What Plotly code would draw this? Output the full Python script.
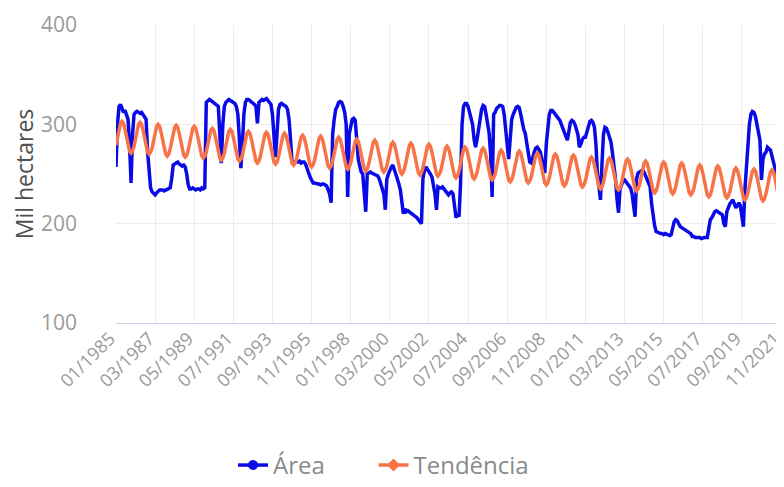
import plotly.graph_objects as go

# Monthly categories 01/1985 .. 11/2021
months = [f"{m:02d}/{y}" for y in range(1985, 2022) for m in range(1, 13)][:443]

tick_labels = ["01/1985", "03/1987", "05/1989", "07/1991", "09/1993", "11/1995",
               "01/1998", "03/2000", "05/2002", "07/2004", "09/2006", "11/2008",
               "01/2011", "03/2013", "05/2015", "07/2017", "09/2019", "11/2021"]

area = [
    257, 300, 318, 320, 316, 312, 314, 310, 305, 280, 241, 290,  # 1985
    310, 312, 313, 312, 311, 312, 310, 308, 305, 272, 250, 236,  # 1986
    232, 230, 229, 231, 233, 234, 234, 234, 233, 234, 234, 235,  # 1987
    236, 245, 259, 260, 261, 262, 260, 259, 258, 259, 257, 250,  # 1988
    239, 235, 235, 236, 235, 234, 235, 235, 234, 236, 235, 236,  # 1989
    322, 324, 325, 324, 323, 322, 321, 320, 318, 290, 261, 300,  # 1990
    318, 322, 324, 325, 324, 323, 322, 321, 318, 310, 285, 256,  # 1991
    280, 310, 322, 325, 325, 324, 323, 322, 320, 318, 301, 322,  # 1992
    324, 325, 324, 325, 326, 324, 322, 320, 310, 290, 267, 290,  # 1993
    315, 320, 321, 320, 319, 318, 315, 305, 285, 262, 260, 262,  # 1994
    262, 262, 263, 261, 262, 262, 260, 255, 250, 247, 244, 241,  # 1995
    241, 240, 240, 240, 239, 240, 240, 239, 238, 234, 230, 221,  # 1996
    290, 305, 315, 318, 322, 323, 322, 318, 312, 300, 227, 290,  # 1997
    300, 305, 306, 304, 285, 265, 258, 252, 250, 235, 212, 250,  # 1998
    251, 252, 251, 250, 250, 249, 248, 245, 239, 235, 230, 214,  # 1999
    245, 250, 255, 257, 259, 255, 250, 245, 240, 234, 222, 210,  # 2000
    215, 212, 213, 212, 211, 210, 209, 208, 206, 204, 202, 200,  # 2001
    245, 254, 257, 255, 252, 250, 247, 240, 230, 214, 237, 236,  # 2002
    236, 237, 235, 233, 232, 229, 231, 232, 230, 220, 206, 210,  # 2003
    207, 240, 300, 318, 321, 321, 318, 312, 307, 300, 285, 277,  # 2004
    285, 297, 305, 315, 319, 318, 310, 300, 291, 270, 227, 310,  # 2005
    312, 316, 318, 319, 319, 318, 310, 295, 277, 265, 285, 305,  # 2006
    310, 315, 317, 318, 317, 310, 300, 295, 291, 280, 268, 262,  # 2007
    261, 268, 272, 276, 277, 275, 272, 265, 258, 251, 280, 300,  # 2008
    310, 314, 314, 312, 310, 308, 306, 304, 300, 295, 292, 288,  # 2009
    284, 295, 302, 304, 303, 300, 295, 290, 277, 280, 285, 287,  # 2010
    287, 292, 298, 303, 304, 302, 297, 280, 250, 235, 224, 260,  # 2011
    290, 297, 296, 292, 288, 282, 271, 260, 245, 225, 211, 235,  # 2012
    240, 243, 244, 242, 240, 238, 236, 230, 220, 207, 245, 251,  # 2013
    252, 253, 254, 252, 248, 244, 240, 237, 220, 207, 198, 192,  # 2014
    191, 190, 190, 190, 189, 190, 189, 189, 188, 189, 195, 202,  # 2015
    204, 203, 200, 197, 196, 195, 194, 193, 193, 192, 190, 187,  # 2016
    187, 186, 186, 186, 186, 185, 186, 186, 186, 186, 195, 204,  # 2017
    206, 209, 212, 213, 212, 211, 210, 209, 200, 197, 212, 217,  # 2018
    220, 222, 224, 220, 216, 218, 221, 218, 205, 197, 234, 260,  # 2019
    284, 300, 310, 313, 312, 308, 300, 292, 284, 244, 265, 270,  # 2020
    272, 277, 276, 274, 268, 262, 257, 252, 244, 236, 229,       # 2021
]

trend = [
    279, 287, 295, 301, 303, 301, 295, 287, 279, 273, 271, 273,  # 1985
    278, 286, 294, 300, 302, 300, 294, 286, 278, 272, 270, 272,  # 1986
    276, 284, 292, 298, 300, 298, 292, 284, 276, 270, 268, 270,  # 1987
    275, 283, 291, 297, 299, 297, 291, 283, 275, 269, 267, 269,  # 1988
    274, 282, 290, 296, 298, 296, 290, 282, 274, 268, 266, 268,  # 1989
    272, 280, 288, 294, 296, 294, 288, 280, 272, 266, 264, 266,  # 1990
    271, 279, 287, 293, 295, 293, 287, 279, 271, 265, 263, 265,  # 1991
    269, 277, 285, 291, 293, 291, 285, 277, 269, 263, 261, 263,  # 1992
    268, 276, 284, 290, 292, 290, 284, 276, 268, 262, 260, 262,  # 1993
    267, 275, 283, 289, 291, 289, 283, 275, 267, 261, 259, 261,  # 1994
    265, 273, 281, 287, 289, 287, 281, 273, 265, 259, 257, 259,  # 1995
    264, 272, 280, 286, 288, 286, 280, 272, 264, 258, 256, 258,  # 1996
    263, 271, 279, 285, 287, 285, 279, 271, 263, 257, 255, 257,  # 1997
    261, 269, 277, 283, 285, 283, 277, 269, 261, 255, 253, 255,  # 1998
    260, 268, 276, 282, 284, 282, 276, 268, 260, 254, 252, 254,  # 1999
    258, 266, 274, 280, 282, 280, 274, 266, 258, 252, 250, 252,  # 2000
    257, 265, 273, 279, 281, 279, 273, 265, 257, 251, 249, 251,  # 2001
    256, 264, 272, 278, 280, 278, 272, 264, 256, 250, 248, 250,  # 2002
    254, 262, 270, 276, 278, 276, 270, 262, 254, 248, 246, 248,  # 2003
    253, 261, 269, 275, 277, 275, 269, 261, 253, 247, 245, 247,  # 2004
    252, 260, 268, 274, 276, 274, 268, 260, 252, 246, 244, 246,  # 2005
    250, 258, 266, 272, 274, 272, 266, 258, 250, 244, 242, 244,  # 2006
    249, 257, 265, 271, 273, 271, 265, 257, 249, 243, 241, 243,  # 2007
    247, 255, 263, 269, 271, 269, 263, 255, 247, 241, 239, 241,  # 2008
    246, 254, 262, 268, 270, 268, 262, 254, 246, 240, 238, 240,  # 2009
    245, 253, 261, 267, 269, 267, 261, 253, 245, 239, 237, 239,  # 2010
    243, 251, 259, 265, 267, 265, 259, 251, 243, 237, 235, 237,  # 2011
    242, 250, 258, 264, 266, 264, 258, 250, 242, 236, 234, 236,  # 2012
    241, 249, 257, 263, 265, 263, 257, 249, 241, 235, 233, 235,  # 2013
    239, 247, 255, 261, 263, 261, 255, 247, 239, 233, 231, 233,  # 2014
    238, 246, 254, 260, 262, 260, 254, 246, 238, 232, 230, 232,  # 2015
    237, 245, 253, 259, 261, 259, 253, 245, 237, 231, 229, 231,  # 2016
    235, 243, 251, 257, 259, 257, 251, 243, 235, 229, 227, 229,  # 2017
    234, 242, 250, 256, 258, 256, 250, 242, 234, 228, 226, 228,  # 2018
    232, 240, 248, 254, 256, 254, 248, 240, 232, 226, 224, 226,  # 2019
    231, 239, 247, 253, 255, 253, 247, 239, 231, 225, 223, 225,  # 2020
    230, 238, 246, 252, 254, 252, 246, 238, 228, 221, 217,       # 2021
]

BLUE = "#0a0ae6"
ORANGE = "#f77448"
GRID = "#ececec"
TICK_COLOR = "#9a9a9a"
FONT = "Open Sans"

fig = go.Figure()
fig.add_trace(go.Scatter(x=months, y=area, mode="lines", name="Área",
                         line=dict(color=BLUE, width=3.5), showlegend=False))
fig.add_trace(go.Scatter(x=months, y=trend, mode="lines", name="Tendência",
                         line=dict(color=ORANGE, width=3.5), showlegend=False))
# legend entries (line + marker symbol), each in its own legend box
fig.add_trace(go.Scatter(x=[None], y=[None], mode="lines+markers", name="Área",
                         line=dict(color=BLUE, width=3.5), legend="legend",
                         marker=dict(color=BLUE, size=10, symbol="circle")))
fig.add_trace(go.Scatter(x=[None], y=[None], mode="lines+markers", name="Tendência",
                         line=dict(color=ORANGE, width=3.5), legend="legend2",
                         marker=dict(color=ORANGE, size=10, symbol="diamond")))

legend_common = dict(orientation="h", xref="container", yref="container",
                     xanchor="left", y=0.045, yanchor="middle",
                     font=dict(size=24, color="#8a8a8a"), itemwidth=30,
                     bgcolor="rgba(0,0,0,0)")

# the page has an 8px body margin, so the figure is drawn 776x479
fig.update_layout(
    width=776, height=479,
    margin=dict(l=108, r=3, t=17, b=164, autoexpand=False),
    paper_bgcolor="white", plot_bgcolor="white",
    font=dict(family=FONT, color=TICK_COLOR),
    legend=dict(x=0.29, **legend_common),
    legend2=dict(x=0.471, **legend_common),
    xaxis=dict(type="category", range=[0, 442], automargin=False,
               tickmode="array", tickvals=tick_labels, ticktext=tick_labels,
               tickangle=-45, tickfont=dict(size=18, color=TICK_COLOR),
               ticklabelshift=-6, ticklabelstandoff=-3,
               showgrid=True, gridcolor=GRID, gridwidth=1,
               showline=True, linecolor="#ccd6eb", linewidth=1,
               ticks="", zeroline=False),
    yaxis=dict(range=[100, 400], tickvals=[100, 200, 300, 400], automargin=False,
               tickfont=dict(size=21, color=TICK_COLOR),
               showgrid=True, gridcolor=GRID, gridwidth=1,
               zeroline=False, ticks="", ticklabelstandoff=38,
               title=dict(text="Mil hectares", font=dict(size=23, color="#4f4f4f"),
                          standoff=12)),
)

fig.write_html("out.html")
